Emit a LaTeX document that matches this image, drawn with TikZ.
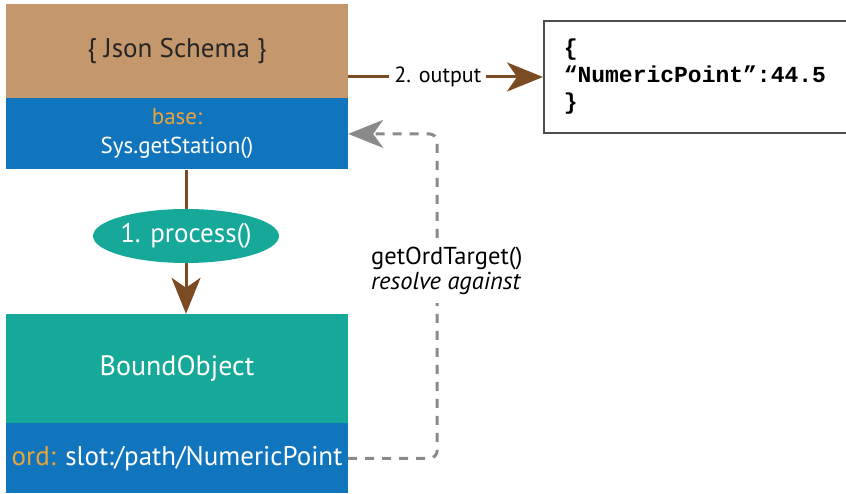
\documentclass[tikz,border=0pt]{standalone}
\usepackage{fontspec}
\setmainfont{PT Sans}
\setmonofont{Liberation Mono}
\usepackage{tikz}
\usetikzlibrary{shapes.geometric, arrows.meta, positioning}
\definecolor{esquema}{RGB}{196,152,108}
\definecolor{azulbase}{RGB}{17,117,189}
\definecolor{verdeobj}{RGB}{22,169,154}
\definecolor{naranja}{RGB}{234,164,58}
\definecolor{marron}{RGB}{123,76,36}
\definecolor{grisret}{RGB}{138,138,138}
\tikzset{
  bloque/.style={rectangle, minimum width=342pt, inner sep=0pt, align=center,
    text=white, font=\fontsize{23}{29}\selectfont},
  esquemab/.style={bloque, fill=esquema, minimum height=94pt, text=black!85,
    font=\fontsize{27}{30}\selectfont},
  baseb/.style={bloque, fill=azulbase, minimum height=71pt},
  objeto/.style={bloque, fill=verdeobj, minimum height=109pt,
    font=\fontsize{28}{30}\selectfont},
  proceso/.style={ellipse, fill=verdeobj, text=white, minimum width=180pt,
    minimum height=54pt, inner sep=0pt, font=\fontsize{27}{30}\selectfont},
  salida/.style={rectangle, draw=black!70, line width=1.5pt, fill=white,
    minimum height=112pt, text width=290pt, inner xsep=20pt, align=left,
    font=\fontsize{23}{27}\selectfont\ttfamily\bfseries},
  flecha/.style={-{Stealth[length=36pt, width=29pt, inset=10pt]},
    line width=3pt, color=marron},
  retorno/.style={-{Stealth[length=35pt, width=28pt, inset=10pt]},
    line width=3pt, color=grisret, dash pattern=on 9pt off 8pt,
    rounded corners=8pt},
  etiq/.style={fill=white, text=black, font=\fontsize{24.5}{25}\selectfont,
    align=left, inner xsep=2pt, inner ysep=8pt}
}

\begin{document}
\begin{tikzpicture}[x=1pt, y=1pt]
  \useasboundingbox (0,0) rectangle (846,493);
  \node[esquemab] (schema) at (177,442) {\{ Json Schema \}};
  \node[baseb, below=0pt of schema] (base)
    {{\color{naranja}base:}\\Sys.getStation()};
  \node[proceso] (proc) at (186,257) {1. process()};
  \node[objeto] (bound) at (177,124.5) {BoundObject};
  \node[baseb, below=0pt of bound, minimum height=70pt,
    font=\fontsize{27}{30}\selectfont] (ord)
    {{\color{naranja}ord:} slot:/path/NumericPoint};
  \node[salida, anchor=west] (json) at (543,416)
    {\{\\“NumericPoint”:44.5\\\}};
  \draw[flecha, -] (base.south -| proc) -- (proc.north);
  \draw[flecha] (proc.south) -- (proc |- bound.north);
  \draw[flecha] (schema.east |- json.west) -- node[etiq, pos=0.46,
    inner xsep=5pt, inner ysep=2pt, font=\fontsize{22}{24}\selectfont] (out)
    {2. output} (json.west);
  \draw[retorno] (ord.east) -- ++(89,0) |- (base.east);
  \node[etiq, anchor=west] (resol) at (369,222)
    {getOrdTarget()\\\textit{resolve against}};
\end{tikzpicture}
\end{document}
